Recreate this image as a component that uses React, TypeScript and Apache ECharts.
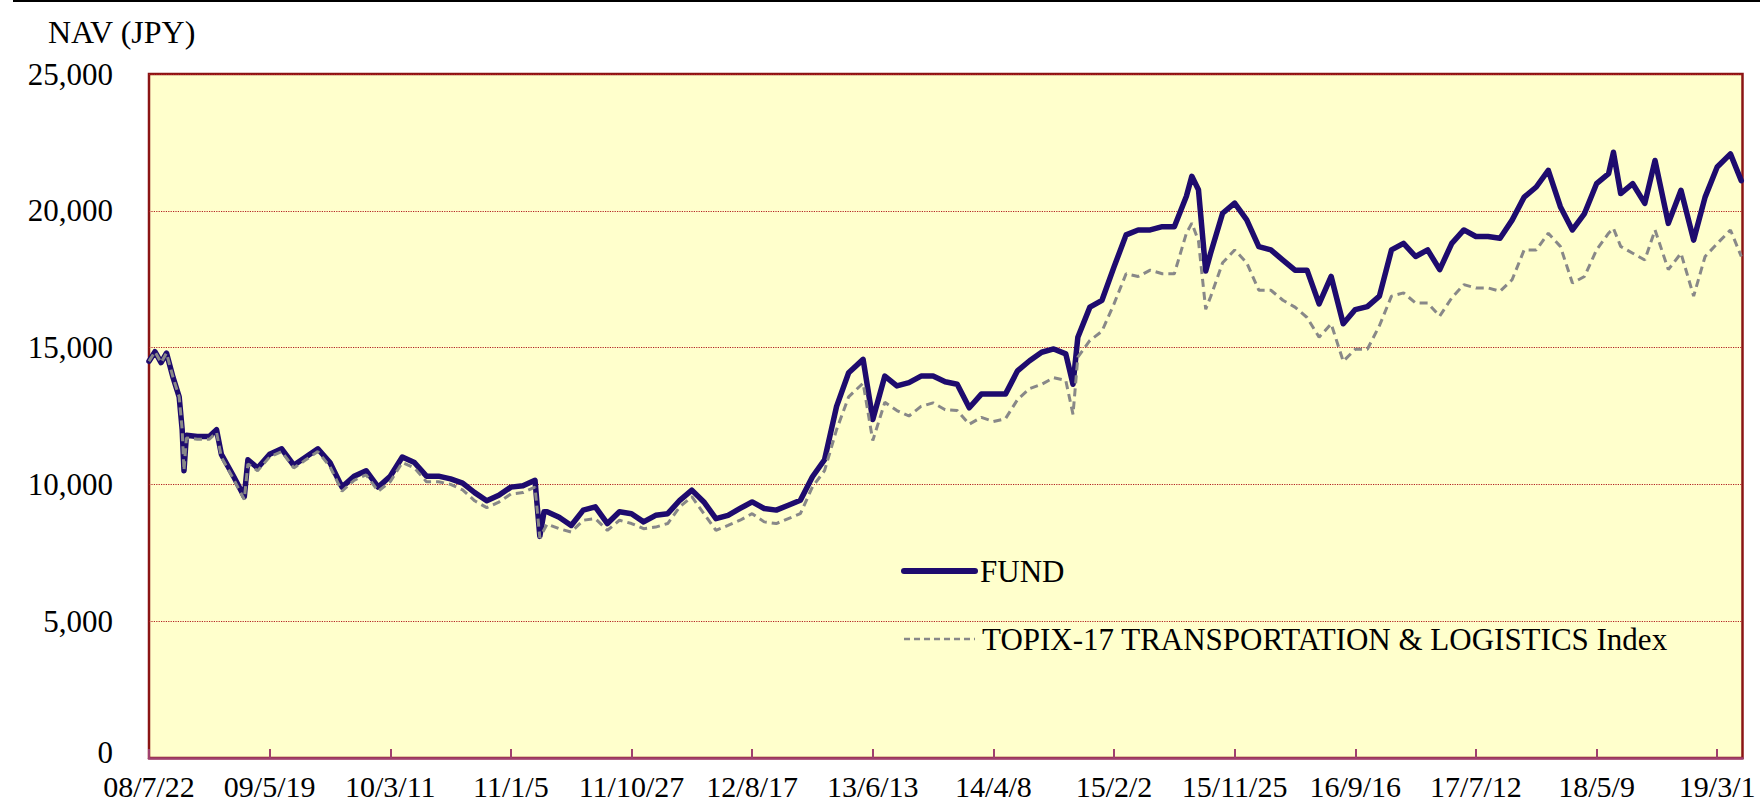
import React, { useEffect, useRef } from "react";
import * as echarts from "echarts";

const tickLabels: string[] = [
  "08/7/22", "09/5/19", "10/3/11", "11/1/5", "11/10/27", "12/8/17", "13/6/13",
  "14/4/8", "15/2/2", "15/11/25", "16/9/16", "17/7/12", "18/5/9", "19/3/1",
];

const yTicks: number[] = [0, 5000, 10000, 15000, 20000, 25000];

const seriesNames: string[] = ["FUND", "TOPIX-17 TRANSPORTATION & LOGISTICS Index"];

// [trading-day index, NAV]
const fundPoints: [number, number][] = [
  [0, 14500], [10, 14850], [20, 14450], [29, 14800], [40, 13900], [50, 13200], [55, 12000],
  [58, 10500], [62, 11800], [80, 11750], [100, 11750], [112, 12000], [120, 11100], [140, 10300],
  [158, 9550], [164, 10900], [180, 10600], [200, 11100], [220, 11300], [240, 10700], [260, 11000],
  [280, 11300], [300, 10800], [320, 9900], [340, 10300], [360, 10500], [380, 9900], [400, 10300],
  [420, 11000], [440, 10800], [460, 10300], [480, 10300], [500, 10200], [520, 10050], [540, 9700],
  [560, 9400], [580, 9600], [600, 9900], [620, 9950], [640, 10150], [648, 8100], [655, 9000],
  [660, 9000], [680, 8800], [700, 8500], [720, 9060], [740, 9180], [760, 8570], [780, 9000],
  [800, 8930], [820, 8630], [840, 8870], [860, 8930], [880, 9420], [900, 9790], [920, 9360],
  [940, 8750], [960, 8870], [980, 9120], [1000, 9360], [1020, 9120], [1040, 9060], [1060, 9240],
  [1080, 9420], [1100, 10280], [1120, 10900], [1140, 12850], [1160, 14080], [1184, 14570],
  [1200, 12370], [1220, 13960], [1240, 13600], [1260, 13720], [1280, 13960], [1300, 13960],
  [1320, 13750], [1340, 13660], [1360, 12800], [1380, 13300], [1400, 13300], [1420, 13300],
  [1440, 14150], [1460, 14520], [1480, 14830], [1500, 14950], [1520, 14770], [1532, 13660],
  [1540, 15380], [1560, 16480], [1580, 16730], [1600, 17950], [1620, 19120], [1640, 19300],
  [1660, 19300], [1680, 19420], [1700, 19420], [1720, 20530], [1729, 21260], [1740, 20770],
  [1752, 17800], [1760, 18440], [1780, 19910], [1800, 20280], [1820, 19670], [1840, 18690],
  [1860, 18570], [1880, 18200], [1900, 17830], [1920, 17830], [1940, 16600], [1960, 17600],
  [1980, 15870], [2000, 16390], [2020, 16500], [2040, 16880], [2060, 18570], [2080, 18810],
  [2100, 18330], [2120, 18570], [2140, 17850], [2160, 18810], [2180, 19300], [2200, 19060],
  [2220, 19060], [2240, 19000], [2260, 19660], [2280, 20500], [2300, 20870], [2320, 21480],
  [2340, 20150], [2360, 19300], [2380, 19900], [2400, 20990], [2420, 21360], [2428, 22140],
  [2440, 20630], [2460, 20990], [2480, 20270], [2497, 21840], [2519, 19540], [2540, 20750],
  [2561, 18930], [2580, 20500], [2600, 21600], [2622, 22080], [2640, 21100],
];

const indexPoints: [number, number][] = [
  [0, 14500], [10, 14850], [20, 14450], [29, 14800], [40, 13900], [50, 13200], [55, 12000],
  [58, 10500], [62, 11700], [80, 11650], [100, 11650], [112, 11900], [120, 11000], [140, 10200],
  [158, 9450], [164, 10750], [180, 10500], [200, 11000], [220, 11200], [240, 10600], [260, 10900],
  [280, 11200], [300, 10650], [320, 9750], [340, 10150], [360, 10350], [380, 9750], [400, 10100],
  [420, 10800], [440, 10600], [460, 10100], [480, 10100], [500, 10000], [520, 9800], [540, 9400],
  [560, 9150], [580, 9350], [600, 9650], [620, 9700], [640, 9900], [648, 8050], [660, 8550],
  [680, 8380], [700, 8260], [720, 8690], [740, 8750], [760, 8320], [780, 8690], [800, 8570],
  [820, 8380], [840, 8440], [860, 8570], [880, 9180], [900, 9550], [920, 8930], [940, 8320],
  [960, 8500], [980, 8690], [1000, 8930], [1020, 8630], [1040, 8570], [1060, 8750], [1080, 8930],
  [1100, 9910], [1120, 10500], [1140, 12000], [1160, 13200], [1184, 13700], [1200, 11600],
  [1220, 13000], [1240, 12700], [1260, 12500], [1280, 12850], [1300, 12980], [1320, 12730],
  [1340, 12700], [1360, 12200], [1380, 12450], [1400, 12300], [1420, 12400], [1440, 13100],
  [1460, 13500], [1480, 13660], [1500, 13900], [1520, 13800], [1532, 12560], [1540, 14650],
  [1560, 15260], [1580, 15600], [1600, 16600], [1620, 17700], [1640, 17600], [1660, 17830],
  [1680, 17700], [1700, 17700], [1720, 19180], [1729, 19550], [1740, 18900], [1752, 16400],
  [1760, 16850], [1780, 18100], [1800, 18570], [1820, 18100], [1840, 17100], [1860, 17100],
  [1880, 16730], [1900, 16480], [1920, 16100], [1940, 15380], [1960, 15870], [1980, 14500],
  [2000, 14940], [2020, 14940], [2040, 15800], [2060, 16880], [2080, 17000], [2100, 16630],
  [2120, 16630], [2140, 16150], [2160, 16820], [2180, 17300], [2200, 17180], [2220, 17180],
  [2240, 17060], [2260, 17480], [2280, 18570], [2300, 18570], [2320, 19180], [2340, 18700],
  [2360, 17360], [2380, 17600], [2400, 18570], [2420, 19180], [2428, 19360], [2440, 18700],
  [2460, 18450], [2480, 18200], [2497, 19300], [2519, 17850], [2540, 18450], [2561, 16880],
  [2580, 18330], [2600, 18800], [2622, 19300], [2640, 18330],
];

const DAYS_PER_LABEL = 200;
const LAST_DAY = 2642;

const FONT = "'Liberation Serif', 'Times New Roman', serif";
const FUND_COLOR = "#1E0B6E";
const INDEX_COLOR = "#888888";

export default function App() {
  const ref = useRef<HTMLDivElement>(null);

  useEffect(() => {
    if (!ref.current) return;
    const chart = echarts.init(ref.current, undefined, { renderer: "svg" });
    chart.setOption({
      animation: false,
      backgroundColor: "#ffffff",
      title: {
        text: "NAV (JPY)",
        left: 48,
        top: 16,
        padding: 0,
        textStyle: { fontFamily: FONT, fontSize: 32, fontWeight: "normal", color: "#000" },
      },
      legend: {
        orient: "vertical",
        left: 901,
        top: 554,
        padding: 0,
        itemWidth: 71,
        itemHeight: 14,
        itemGap: 34,
        itemStyle: { opacity: 0 },
        data: [
          {
            name: seriesNames[0],
            lineStyle: { color: FUND_COLOR, width: 6, cap: "round" },
          },
          {
            name: seriesNames[1],
            lineStyle: { color: INDEX_COLOR, width: 2.7, type: [6, 4] },
            textStyle: { padding: [0, 0, 0, 2] },
          },
        ],
        textStyle: { fontFamily: FONT, fontSize: 31, color: "#000", lineHeight: 34 },
      },
      graphic: [
        {
          type: "line",
          shape: { x1: 13, y1: 1, x2: 1760, y2: 1 },
          style: { stroke: "#000", lineWidth: 2 },
        },
      ],
      grid: {
        left: 149,
        top: 74,
        right: 17.5,
        bottom: 47,
        show: true,
        backgroundColor: "#FFFFCC",
        borderColor: "#8B1414",
        borderWidth: 2.5,
      },
      xAxis: {
        type: "value",
        min: 0,
        max: LAST_DAY,
        interval: DAYS_PER_LABEL,
        axisLine: { show: true, lineStyle: { color: "#A0406E", width: 2.5 } },
        axisTick: { show: true, inside: true, length: 9, lineStyle: { color: "#A0406E", width: 2 } },
        axisLabel: {
          margin: 12,
          fontFamily: FONT,
          fontSize: 30,
          lineHeight: 32,
          color: "#000",
          showMaxLabel: false,
          formatter: (v: number) => {
            const k = Math.round(v / DAYS_PER_LABEL);
            return Math.abs(v - k * DAYS_PER_LABEL) < 1e-6 && tickLabels[k] ? tickLabels[k] : "";
          },
        },
        splitLine: { show: false },
      },
      yAxis: {
        type: "value",
        min: yTicks[0],
        max: yTicks[yTicks.length - 1],
        interval: yTicks[1] - yTicks[0],
        axisLine: { show: false },
        axisTick: { show: false },
        axisLabel: {
          margin: 36,
          fontFamily: FONT,
          fontSize: 31,
          color: "#000",
          formatter: (v: number) =>
            v === yTicks[0] ? "{zero|" + v.toLocaleString("en-US") + "}" : v.toLocaleString("en-US"),
          rich: {
            zero: { fontFamily: FONT, fontSize: 31, color: "#000", padding: [0, 0, 12, 0] },
          },
        },
        splitLine: { show: true, lineStyle: { color: "#B22222", type: "dotted", width: 1.2 } },
      },
      series: [
        {
          name: seriesNames[0],
          type: "line",
          data: fundPoints,
          showSymbol: false,
          symbol: "none",
          lineStyle: { color: FUND_COLOR, width: 5.5, join: "round", cap: "round" },
          itemStyle: { color: FUND_COLOR },
          z: 2,
        },
        {
          name: seriesNames[1],
          type: "line",
          data: indexPoints,
          showSymbol: false,
          symbol: "none",
          lineStyle: { color: INDEX_COLOR, width: 3, type: [8, 5] },
          itemStyle: { color: INDEX_COLOR },
          z: 3,
        },
      ],
    });
    return () => chart.dispose();
  }, []);

  return (
    <div
      ref={ref}
      style={{ position: "fixed", left: 0, top: 0, width: 1760, height: 805, background: "#fff" }}
    />
  );
}
